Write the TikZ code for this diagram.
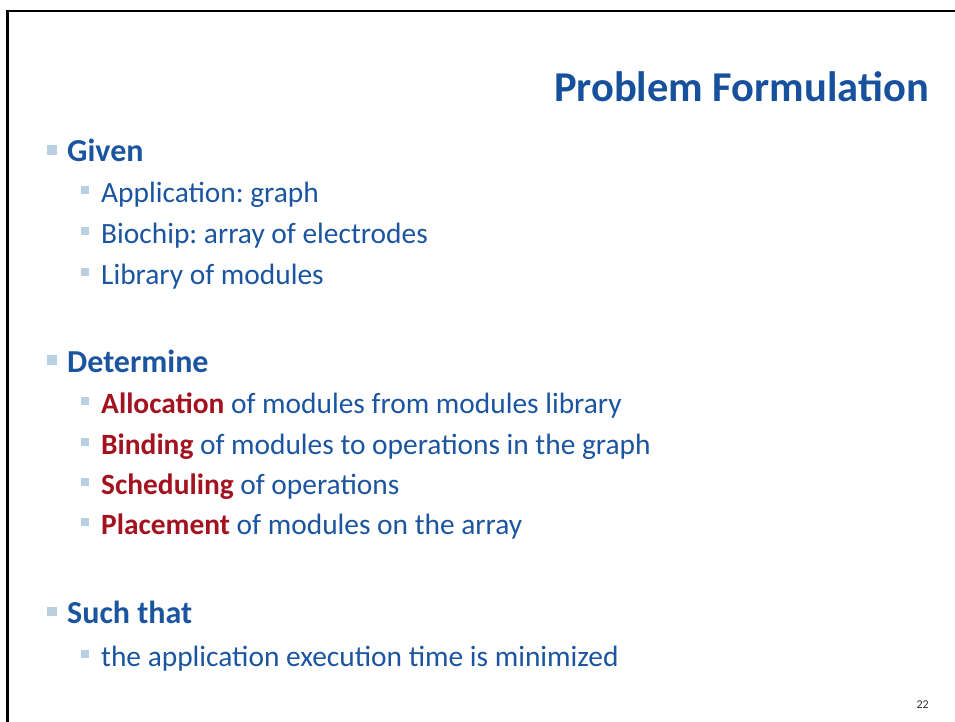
\documentclass[tikz,border=0pt]{standalone}
\usepackage{fontspec}
\setmainfont{Carlito}
\frenchspacing
\definecolor{slideblue}{HTML}{1B55A0}
\definecolor{titleblue}{HTML}{17509C}
\definecolor{keyred}{HTML}{A3121F}
\definecolor{bulletgrey}{HTML}{B9D0E3}
\tikzset{
  title/.style={anchor=base east, inner sep=0pt, text=titleblue, font=\fontsize{42.5}{48}\selectfont\bfseries},
  lvlone/.style={anchor=base west, inner sep=0pt, text=slideblue, font=\fontsize{32}{38}\selectfont\bfseries},
  lvltwo/.style={anchor=base west, inner sep=0pt, text=slideblue, font=\fontsize{29.4}{35}\selectfont},
  sqone/.style={fill=bulletgrey, draw=none, minimum size=9.5pt, inner sep=0pt},
  sqtwo/.style={fill=bulletgrey, draw=none, minimum size=8.5pt, inner sep=0pt},
  pagenum/.style={anchor=base east, inner sep=0pt, text=black!80, font=\fontsize{12}{14}\selectfont},
  frameline/.style={line width=2.2pt, black}
}
\newcommand{\key}[1]{\textcolor{keyred}{\textbf{#1}}}
\begin{document}
\begin{tikzpicture}[x=1pt,y=-1pt]
  \useasboundingbox (0,0) rectangle (955,722);
  % slide frame (top and left edges)
  \draw[frameline] (7.5,722) -- (7.5,11) -- (955,11);

  \node[title] (ttl) at (929,102) {Problem Formulation};

  % Given
  \node[sqone] (b1) at (52,150) {};
  \node[lvlone] (given) at (67,162) {Given};
  \node[sqtwo] (b11) at (85,190) {};
  \node[lvltwo] (app) at (101,202) {Application: graph};
  \node[sqtwo] (b12) at (85,231) {};
  \node[lvltwo] (chip) at (101,243) {Biochip: array of electrodes};
  \node[sqtwo] (b13) at (85,272) {};
  \node[lvltwo] (lib) at (101,284) {Library of modules};

  % Determine
  \node[sqone] (b2) at (52,360) {};
  \node[lvlone] (det) at (67,372) {Determine};
  \node[sqtwo] (b21) at (85,401) {};
  \node[lvltwo] (alloc) at (101,413) {\key{Allocation} of modules from modules library};
  \node[sqtwo] (b22) at (85,442) {};
  \node[lvltwo] (bind) at (101,454) {\key{Binding} of modules to operations in the graph};
  \node[sqtwo] (b23) at (85,482) {};
  \node[lvltwo] (sched) at (101,494) {\key{Scheduling} of operations};
  \node[sqtwo] (b24) at (85,522) {};
  \node[lvltwo] (place) at (101,534) {\key{Placement} of modules on the array};

  % Such that
  \node[sqone] (b3) at (52,611.5) {};
  \node[lvlone] (such) at (67,623) {Such that};
  \node[sqtwo] (b31) at (85,654) {};
  \node[lvltwo] (exec) at (101,666) {the application execution time is minimized};

  \node[pagenum] (pg) at (929,708) {22};
\end{tikzpicture}
\end{document}
